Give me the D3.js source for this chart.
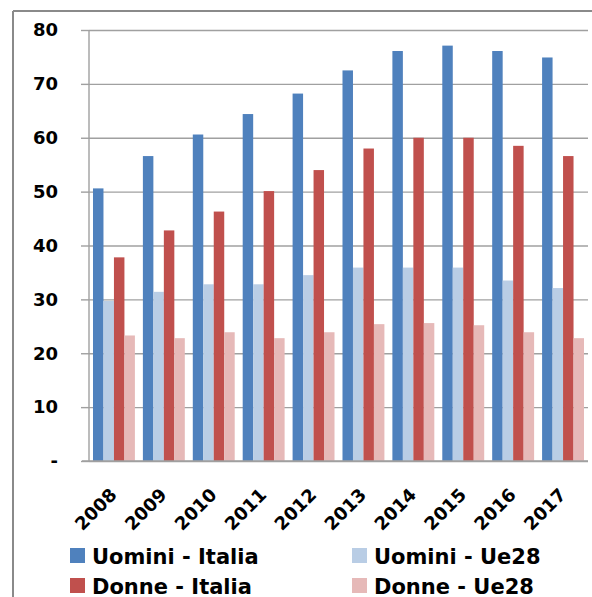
<!DOCTYPE html>
<html>
<head>
<meta charset="utf-8">
<script src="https://cdn.jsdelivr.net/npm/d3@7"></script>
<style>
  html, body { margin: 0; padding: 0; background: #fff; }
  svg { display: block; }
  text { font-family: "DejaVu Sans", sans-serif; font-weight: bold; fill: #000; }
</style>
</head>
<body>
<svg id="chart" width="592" height="597"></svg>
<script>
const years = ["2008","2009","2010","2011","2012","2013","2014","2015","2016","2017"];
const seriesNames = ["Uomini - Italia", "Uomini - Ue28", "Donne - Italia", "Donne - Ue28"];
const uominiItalia = [50.6, 56.6, 60.6, 64.4, 68.2, 72.5, 76.1, 77.1, 76.1, 74.9];
const uominiUe28   = [29.7, 31.4, 32.8, 32.8, 34.5, 35.9, 35.9, 35.9, 33.5, 32.1];
const donneItalia  = [37.8, 42.8, 46.3, 50.1, 54.0, 58.0, 60.0, 60.0, 58.5, 56.6];
const donneUe28    = [23.3, 22.8, 23.9, 22.8, 23.9, 25.4, 25.6, 25.2, 23.9, 22.8];
const yTicks = [0, 10, 20, 30, 40, 50, 60, 70, 80];
const yTickLabels = ["-", "10", "20", "30", "40", "50", "60", "70", "80"];
const colors = ["#4F81BD", "#B9CDE5", "#C0504D", "#E6B9B8"];

const seriesValues = [uominiItalia, uominiUe28, donneItalia, donneUe28];

const svg = d3.select("#chart");
const plot = { left: 89, right: 588, top: 30, bottom: 461 };

// outer frame
svg.append("line").attr("x1", 13).attr("x2", 13).attr("y1", 11).attr("y2", 597)
  .attr("stroke", "#8a8a8a").attr("stroke-width", 2);
svg.append("line").attr("x1", 13).attr("x2", 592).attr("y1", 11).attr("y2", 11)
  .attr("stroke", "#8a8a8a").attr("stroke-width", 2);

const y = d3.scaleLinear().domain([0, 80]).range([plot.bottom, plot.top]);
const x0 = d3.scaleBand().domain(years).range([plot.left, plot.right])
  .paddingInner(0.16).paddingOuter(0.08);
const x1 = d3.scaleBand().domain(seriesNames).range([0, x0.bandwidth()]);

// gridlines
const yAxis = d3.axisLeft(y).tickValues(yTicks)
  .tickSize(-(plot.right - plot.left))
  .tickFormat((d, i) => "");
const gGrid = svg.append("g").attr("transform", `translate(${plot.left},0)`).call(yAxis);
gGrid.select(".domain").remove();
gGrid.selectAll(".tick line").attr("stroke", "#a0a0a0").attr("stroke-width", 1.4);

// outer tick marks + labels
const yAxis2 = d3.axisLeft(y).tickValues(yTicks).tickSize(8).tickPadding(23)
  .tickFormat((d, i) => yTickLabels[i]);
const gY = svg.append("g").attr("transform", `translate(${plot.left},0)`).call(yAxis2);
gY.select(".domain").attr("stroke", "#a0a0a0").attr("stroke-width", 1.4)
  .attr("d", `M0,${plot.top}V${plot.bottom}`);
gY.selectAll(".tick line").attr("stroke", "#a0a0a0").attr("stroke-width", 1.4);
gY.selectAll(".tick text").attr("font-size", 18).attr("font-family", "DejaVu Sans")
  .attr("font-weight", "bold").attr("fill", "#000");

// bars
const groups = svg.append("g").selectAll("g").data(years).join("g")
  .attr("transform", d => `translate(${x0(d)},0)`);
groups.selectAll("rect")
  .data((yr, i) => seriesNames.map((s, j) => ({ s, j, v: seriesValues[j][i] })))
  .join("rect")
  .attr("x", d => x1(d.s))
  .attr("width", x1.bandwidth())
  .attr("y", d => y(d.v))
  .attr("height", d => y(0) - y(d.v))
  .attr("fill", d => colors[d.j]);

// x axis line
svg.append("line").attr("x1", 82).attr("x2", plot.right).attr("y1", plot.bottom).attr("y2", plot.bottom)
  .attr("stroke", "#a0a0a0").attr("stroke-width", 1.4);

// x labels
svg.append("g").selectAll("text").data(years).join("text")
  .attr("text-anchor", "end")
  .attr("font-size", 18)
  .attr("transform", d => `translate(${x0(d) + x0.bandwidth() / 2 + 4},496) rotate(-45)`)
  .text(d => d);

// legend
const legendPos = [
  { x: 70, y: 548 }, { x: 352, y: 548 },
  { x: 70, y: 578 }, { x: 352, y: 578 }
];
const leg = svg.append("g").selectAll("g").data(seriesNames).join("g")
  .attr("transform", (d, i) => `translate(${legendPos[i].x},${legendPos[i].y})`);
leg.append("rect").attr("width", 15).attr("height", 15)
  .attr("fill", (d, i) => colors[i]);
leg.append("text").attr("x", 22).attr("y", 15.5)
  .attr("font-size", 21).text(d => d);
</script>
</body>
</html>
